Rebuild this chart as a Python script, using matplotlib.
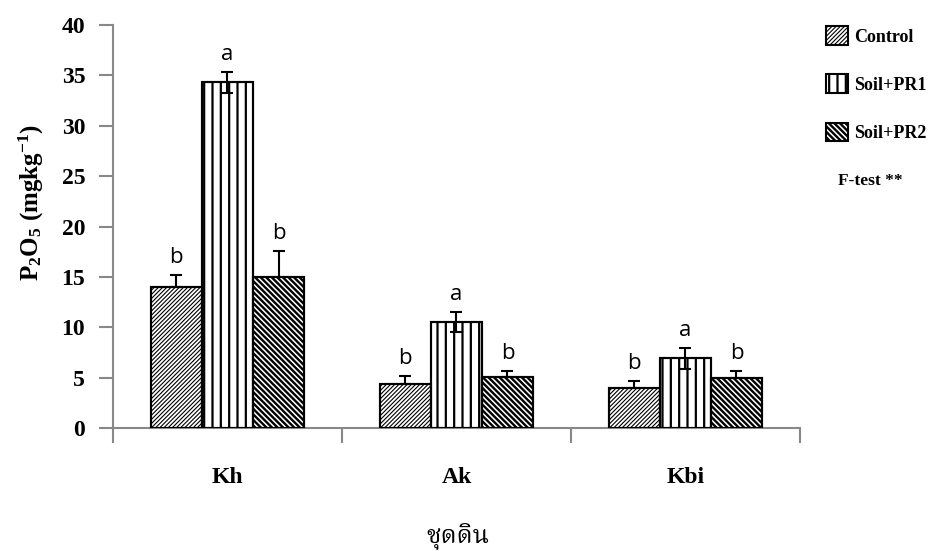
import matplotlib
matplotlib.use("Agg")
import matplotlib.pyplot as plt
import numpy as np
from matplotlib.patches import Patch

# Soil series and treatments
soils = ["Kh", "Ak", "Kbi"]
treatments = ["Control", "Soil+PR1", "Soil+PR2"]

control = [14.0, 4.35, 4.0]
pr1 = [34.3, 10.5, 6.9]
pr2 = [15.0, 5.05, 4.95]

control_err = [1.2, 0.8, 0.7]
pr1_err = [1.0, 1.0, 1.0]
pr2_err = [2.6, 0.6, 0.7]

control_letters = ["b", "b", "b"]
pr1_letters = ["a", "a", "a"]
pr2_letters = ["b", "b", "b"]

serif = ["Liberation Serif", "DejaVu Serif"]
plt.rcParams["mathtext.fontset"] = "custom"
plt.rcParams["mathtext.rm"] = "Liberation Serif:bold"
plt.rcParams["mathtext.it"] = "Liberation Serif:bold"
plt.rcParams["mathtext.bf"] = "Liberation Serif:bold"

fig = plt.figure(figsize=(9.29, 5.51), dpi=100)
ax = fig.add_axes([0.1216, 0.2232, 0.7394, 0.7314])

x = np.arange(len(soils))
w = 0.223
# (values, errors, letters, hatch, offset, hatch colour, hatch width, symmetric err)
series = [
    (control, control_err, control_letters, "////////", -w, "#555555", 0.8, False),
    (pr1, pr1_err, pr1_letters, "||", 0.0, "black", 1.6, True),
    (pr2, pr2_err, pr2_letters, "\\\\\\\\\\\\", w, "black", 1.7, False),
]
handles = []
for vals, errs, letters, hatch, off, hcol, hlw, sym in series:
    plt.rcParams["hatch.color"] = hcol
    plt.rcParams["hatch.linewidth"] = hlw
    ax.bar(x + off, vals, width=w, color="white", edgecolor="black",
           linewidth=1.5, hatch=hatch, zorder=3)
    ax.bar(x + off, vals, width=w, color="none", edgecolor="black",
           linewidth=1.5, zorder=4)
    handles.append(Patch(facecolor="white", edgecolor="black", hatch=hatch,
                         lw=1.5))
    lower = errs if sym else [0] * len(errs)
    ax.errorbar(x + off, vals, yerr=[lower, errs], fmt="none", ecolor="black",
                elinewidth=1.5, capsize=4.5, capthick=1.5, zorder=5)
    for xi, v, e, t in zip(x + off, vals, errs, letters):
        ax.annotate(t, (xi, v + e), xytext=(0, 5), textcoords="offset points",
                    ha="center", va="bottom", fontsize=16,
                    family=["Open Sans", "DejaVu Sans"])

ax.set_xlim(-0.5, 2.5)
ax.set_ylim(0, 40)
ax.set_yticks(np.arange(0, 41, 5))
ax.set_yticklabels([str(v) for v in range(0, 41, 5)], fontsize=17,
                   fontweight="bold", family=serif)
ax.set_xticks([-0.5, 0.5, 1.5, 2.5])
ax.set_xticklabels([])
for xi, name in zip(x, soils):
    ax.text(xi, -4.9, name, ha="center", va="center", fontsize=17,
            fontweight="bold", family=serif)

for side in ["top", "right"]:
    ax.spines[side].set_visible(False)
for side in ["left", "bottom"]:
    ax.spines[side].set_color("#888888")
    ax.spines[side].set_linewidth(1.5)
ax.tick_params(axis="y", direction="out", length=10, width=1.5,
               color="#888888", pad=10)
ax.tick_params(axis="x", direction="out", length=11, width=1.5,
               color="#888888")

ax.set_ylabel(r"P$_2$O$_5$ (mgkg$^{-1}$)", fontsize=18,
              fontweight="bold", family=serif)
ax.yaxis.set_label_coords(-0.097, 0.56)
fig.text(0.493, 0.025, "ชุดดิน", ha="center", va="center", fontsize=18,
         fontweight="bold",
         family=["Noto Serif Thai", "Noto Sans Thai", "Loma", "Garuda",
                 "Tlwg Typo", "FreeSerif", "DejaVu Sans"])

leg = fig.legend(handles, treatments, loc="upper left",
                 bbox_to_anchor=(0.872, 0.982), frameon=False,
                 prop={"family": serif, "weight": "bold", "size": 13},
                 handlelength=1.2, handleheight=1.2, labelspacing=1.6,
                 handletextpad=0.35)
for p, (_, _, _, _, _, _, hlw, _) in zip(leg.get_patches(), series):
    if hasattr(p, "set_hatch_linewidth"):
        p.set_hatch_linewidth(hlw)
fig.text(0.937, 0.672, "F-test **", ha="center", va="center", fontsize=12.5,
         fontweight="bold", family=serif)

fig.savefig("out.png", dpi=100)
